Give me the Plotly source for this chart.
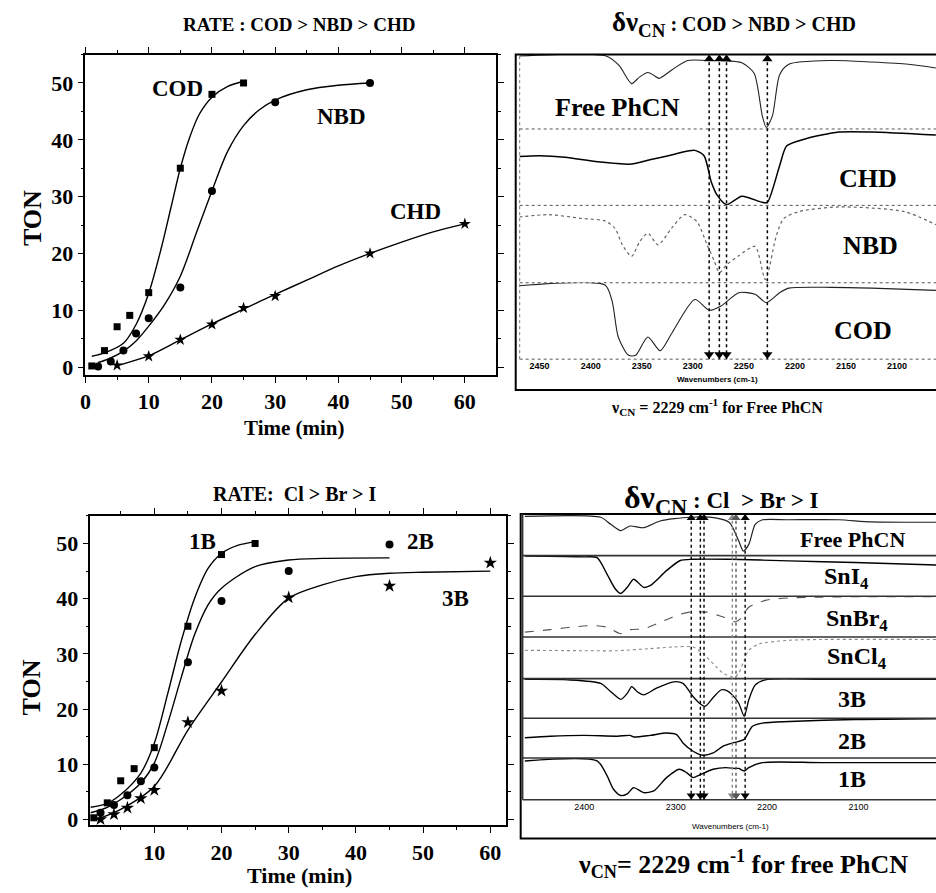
import plotly.graph_objects as go

W, H = 936, 893
def PX(p): return p / W
def PY(p): return 1 - p / H

SERIF = "Liberation Serif"
SANS = "Liberation Sans"

# ---------------- Data: top-left (TON vs time, diene) ----------------
cod_t = [1, 3, 5, 7, 10, 15, 20, 25]
cod_ton = [0.2, 2.9, 7.1, 9.1, 13.1, 35.0, 48.0, 50.0]
nbd_t = [2, 4, 6, 8, 10, 15, 20, 30, 45]
nbd_ton = [0.1, 1.0, 2.9, 5.9, 8.6, 14.0, 31.0, 46.6, 50.0]
chd_t = [5, 10, 15, 20, 25, 30, 45, 60]
chd_ton = [0.3, 1.9, 4.8, 7.5, 10.4, 12.5, 20.0, 25.2]

cod_fit_t = [1, 3, 6, 8, 10, 12, 13.5, 15, 16.5, 18, 20, 22.5, 25]
cod_fit = [1.9, 2.5, 4.2, 7.5, 13.0, 21.0, 28.0, 35.0, 40.5, 44.5, 47.5, 49.4, 50.3]
nbd_fit_t = [2, 4, 6, 8, 10, 12.5, 15, 17.5, 20, 22.5, 25, 27.5, 30, 35, 40, 45]
nbd_fit = [0.8, 1.6, 2.8, 4.6, 7.2, 11.0, 16.0, 23.5, 31.0, 38.0, 42.5, 45.3, 47.0, 48.8, 49.6, 50.0]
chd_fit_t = [5.5, 10, 15, 20, 25, 30, 35, 40, 45, 50, 55, 60]
chd_fit = [0.4, 2.0, 4.8, 7.6, 10.2, 12.8, 15.3, 17.8, 20.0, 22.0, 23.8, 25.2]

# ---------------- Data: bottom-left (TON vs time, SnX4) ----------------
b1_t = [1, 3, 5, 7, 10, 15, 20, 25]
b1_ton = [0.3, 3.0, 7.0, 9.2, 13.0, 35.0, 48.0, 50.0]
b2_t = [2, 4, 6, 8, 10, 15, 20, 30, 45]
b2_ton = [1.2, 2.6, 4.4, 6.9, 9.4, 28.5, 39.6, 45.0, 49.8]
b3_t = [2, 4, 6, 8, 10, 15, 20, 30, 45, 60]
b3_ton = [0.0, 0.9, 2.1, 3.8, 5.3, 17.6, 23.3, 40.2, 42.3, 46.5]

b1_fit_t = [0.5, 3, 5, 8, 10, 12, 14, 16, 18, 20, 22.5, 25]
b1_fit = [2.2, 2.9, 4.5, 8.4, 13.8, 22.8, 32.3, 40.1, 45.5, 48.2, 49.7, 50.3]
b2_fit_t = [0.5, 3, 5, 8, 10, 12, 14, 16, 18, 20, 25, 30, 35, 45]
b2_fit = [1.2, 2.2, 3.6, 6.6, 10.2, 17.4, 25.7, 33.5, 38.9, 41.9, 45.8, 47.0, 47.3, 47.4]
b3_fit_t = [1, 5, 10, 15, 20, 25, 30, 35, 40, 45, 50, 60]
b3_fit = [-0.2, 1.8, 6.0, 16.2, 24.9, 33.5, 40.1, 42.5, 44.0, 44.6, 44.8, 45.0]

# ---------------- Data: top-right IR spectra (wavenumber, % of band) ----------------
free1_w = [2470, 2385, 2372, 2360, 2352, 2344, 2338, 2333, 2320, 2305, 2286, 2271, 2252, 2240, 2232, 2228, 2222, 2215, 2206, 2164, 2125, 2089, 2062]
free1_v = [98, 98, 85, 61, 70, 76, 72, 68, 80, 92, 92, 92, 89, 75, 18, 2, 18, 73, 87, 92, 90, 87, 82]
chdS_w = [2470, 2450, 2425, 2393, 2360, 2344, 2321, 2298, 2289, 2282, 2276, 2267, 2252, 2232, 2227, 2215, 2208, 2190, 2157, 2125, 2062]
chdS_v = [64, 65, 63, 57, 54, 59, 66, 72, 65, 31, 13, 1, 12, 4, 4, 52, 78, 87, 96, 96, 92]
nbdS_w = [2470, 2441, 2408, 2386, 2376, 2369, 2360, 2352, 2344, 2334, 2321, 2308, 2296, 2286, 2279, 2274, 2267, 2255, 2239, 2229, 2218, 2211, 2196, 2157, 2093, 2062]
nbdS_v = [85, 88, 83, 80, 70, 49, 34, 53, 64, 49, 70, 88, 79, 49, 28, 13, 23, 35, 47, 4, 62, 83, 92, 98, 92, 75]
codS_w = [2470, 2386, 2379, 2373, 2363, 2356, 2344, 2332, 2321, 2298, 2284, 2272, 2255, 2239, 2228, 2215, 2206, 2164, 2125, 2062]
codS_v = [96, 97, 76, 29, 5, 5, 29, 11, 33, 78, 64, 70, 87, 85, 74, 87, 93, 94, 93, 90]
top_marks = [2284, 2274, 2267, 2227]
top_ticks = [2450, 2400, 2350, 2300, 2250, 2200, 2150, 2100]

# ---------------- Data: bottom-right IR spectra ----------------
free2_w = [2465, 2382, 2371, 2360, 2350, 2335, 2317, 2285, 2255, 2241, 2231, 2226, 2220, 2213, 2205, 2176, 2122, 2086, 2015]
free2_v = [94, 92, 75, 60, 71, 67, 83, 92, 90, 79, 35, 11, 27, 75, 86, 86, 86, 81, 80]
sni_w = [2465, 2400, 2386, 2375, 2366, 2360, 2353, 2346, 2335, 2328, 2310, 2295, 2281, 2241, 2176, 2104, 2015]
sni_v = [99, 97, 95, 54, 18, 7, 22, 42, 22, 26, 63, 88, 91, 91, 87, 83, 77]
snbr_w = [2465, 2437, 2415, 2390, 2375, 2360, 2350, 2335, 2321, 2299, 2285, 2266, 2248, 2241, 2235, 2229, 2220, 2202, 2176, 2140, 2104, 2015]
snbr_v = [12, 18, 24, 28, 24, 8, 18, 20, 32, 53, 61, 61, 49, 45, 37, 45, 73, 90, 96, 98, 99, 99]
sncl_w = [2465, 2400, 2364, 2328, 2302, 2281, 2270, 2259, 2248, 2236, 2231, 2225, 2220, 2209, 2176, 2140, 2015]
sncl_v = [68, 67, 67, 72, 76, 76, 60, 36, 13, 3, 13, 45, 68, 83, 92, 94, 94]
s3b_w = [2465, 2418, 2382, 2371, 2360, 2353, 2348, 2342, 2335, 2321, 2302, 2292, 2281, 2274, 2268, 2258, 2250, 2244, 2238, 2231, 2225, 2220, 2213, 2202, 2140, 2015]
s3b_v = [98, 97, 88, 67, 48, 63, 80, 67, 59, 76, 92, 88, 55, 38, 30, 55, 72, 70, 59, 38, 5, 47, 84, 97, 98, 98]
s2b_w = [2465, 2437, 2400, 2364, 2350, 2346, 2328, 2310, 2299, 2292, 2281, 2270, 2259, 2248, 2239, 2231, 2225, 2216, 2205, 2176, 2104, 2015]
s2b_v = [51, 55, 57, 55, 57, 53, 57, 63, 59, 38, 17, 7, 13, 30, 37, 42, 47, 80, 88, 92, 97, 99]
s1b_w = [2465, 2386, 2375, 2368, 2360, 2353, 2346, 2335, 2324, 2310, 2296, 2288, 2281, 2274, 2259, 2245, 2235, 2231, 2225, 2220, 2205, 2140, 2015]
s1b_v = [93, 93, 57, 25, 10, 14, 29, 17, 21, 53, 73, 65, 53, 59, 73, 77, 75, 75, 69, 77, 89, 89, 89]
bot_marks = [2283, 2273, 2269, 2238, 2234, 2224]
bot_mark_colors = ["black", "black", "black", "#888888", "#555555", "black"]
bot_ticks = [2400, 2300, 2200, 2100]

fig = go.Figure()

# ---------- left kinetics panels ----------
def kin(t, v, sym, size, xa, ya):
    fig.add_trace(go.Scatter(x=t, y=v, mode="markers", xaxis=xa, yaxis=ya,
                             marker=dict(symbol=sym, size=size, color="black"),
                             showlegend=False, cliponaxis=False))

def fit(t, v, xa, ya):
    fig.add_trace(go.Scatter(x=t, y=v, mode="lines", xaxis=xa, yaxis=ya,
                             line=dict(color="black", width=1.4, shape="spline", smoothing=0.9),
                             showlegend=False))

fit(cod_fit_t, cod_fit, "x", "y"); fit(nbd_fit_t, nbd_fit, "x", "y"); fit(chd_fit_t, chd_fit, "x", "y")
kin(cod_t, cod_ton, "square", 7, "x", "y")
kin(nbd_t, nbd_ton, "circle", 8, "x", "y")
kin(chd_t, chd_ton, "star", 9, "x", "y")

fit(b1_fit_t, b1_fit, "x2", "y2"); fit(b2_fit_t, b2_fit, "x2", "y2"); fit(b3_fit_t, b3_fit, "x2", "y2")
kin(b1_t, b1_ton, "square", 7, "x2", "y2")
kin(b2_t, b2_ton, "circle", 8, "x2", "y2")
kin(b3_t, b3_ton, "star", 10, "x2", "y2")

# ---------- spectra ----------
def spec(w, v, xa, ya, color="black", width=1.1, dash="solid"):
    fig.add_trace(go.Scatter(x=w, y=v, mode="lines", xaxis=xa, yaxis=ya,
                             line=dict(color=color, width=width, dash=dash, shape="spline", smoothing=0.7),
                             showlegend=False, cliponaxis=False))

spec(free1_w, free1_v, "x3", "y3", "#222222", 1.1)
spec(chdS_w, chdS_v, "x3", "y4", "black", 1.5)
spec(nbdS_w, nbdS_v, "x3", "y5", "#666666", 1.2, "dot")
spec(codS_w, codS_v, "x3", "y6", "#222222", 1.1)

spec(free2_w, free2_v, "x4", "y7", "#222222", 1.2)
spec(sni_w, sni_v, "x4", "y8", "black", 1.4)
spec(snbr_w, snbr_v, "x4", "y9", "#555555", 1.1, "dash")
spec(sncl_w, sncl_v, "x4", "y10", "#888888", 1.1, "dot")
spec(s3b_w, s3b_v, "x4", "y11", "black", 1.3)
spec(s2b_w, s2b_v, "x4", "y12", "black", 1.4)
spec(s1b_w, s1b_v, "x4", "y13", "black", 1.4)

# arrowheads of the shift markers (triangles at top and bottom of each spectra stack)
def heads(marks, colors, xa, ytop, ybot, top_off, bot_off, size):
    fig.add_trace(go.Scatter(x=marks, y=[100 - top_off] * len(marks), mode="markers", xaxis=xa, yaxis=ytop,
                             marker=dict(symbol="triangle-up", size=size, color=colors),
                             showlegend=False, cliponaxis=False))
    fig.add_trace(go.Scatter(x=marks, y=[bot_off] * len(marks), mode="markers", xaxis=xa, yaxis=ybot,
                             marker=dict(symbol="triangle-down", size=size, color=colors),
                             showlegend=False, cliponaxis=False))

heads(top_marks, ["black"] * len(top_marks), "x3", "y3", "y6", 6, 6, 9)
heads(bot_marks, bot_mark_colors, "x4", "y7", "y13", 10, 10, 8)

tickfont = dict(family=SERIF, size=22, color="black", weight="bold")
kin_axis = dict(showline=True, linecolor="black", linewidth=1.5, mirror="ticks",
                ticks="outside", ticklen=6, tickwidth=1.3, tickcolor="black",
                showgrid=False, zeroline=False, tickfont=tickfont,
                minor=dict(ticks="outside", ticklen=3, tickwidth=1, tickcolor="black", dtick=5))

layout = dict(
    width=W, height=H, margin=dict(l=0, r=0, t=0, b=0),
    paper_bgcolor="white", plot_bgcolor="white", showlegend=False,
    font=dict(family=SERIF, color="black"),
    xaxis=dict(domain=[PX(80), PX(493)], range=[0, 64.9], anchor="y", dtick=10, tick0=0, **kin_axis),
    yaxis=dict(domain=[PY(378), PY(55)], range=[-1.4, 55], anchor="x", dtick=10, tick0=0, **kin_axis),
    xaxis2=dict(domain=[PX(85), PX(503)], range=[0.5, 62.3], anchor="y2", dtick=10, tick0=0, **kin_axis),
    yaxis2=dict(domain=[PY(832), PY(520)], range=[-1.1, 55], anchor="x2", dtick=10, tick0=0, **kin_axis),
    xaxis3=dict(domain=[PX(517), 1.0], range=[2469.5, 2061.9], anchor="y6", showgrid=False, zeroline=False,
                showline=False, ticks="", tickvals=top_ticks,
                tickfont=dict(family=SANS, size=9, color="black", weight="bold")),
    xaxis4=dict(domain=[PX(520), 1.0], range=[2467.4, 2015.2], anchor="y13", showgrid=False, zeroline=False,
                showline=False, ticks="", tickvals=bot_ticks,
                tickfont=dict(family=SANS, size=9, color="black")),
)

top_bands = [55, 130, 207, 285, 362]
for i in range(4):
    layout[f"yaxis{3+i}"] = dict(domain=[PY(top_bands[i+1]), PY(top_bands[i])], range=[0, 100],
                                 anchor="x3", visible=False)
bot_bands = [518, 560, 601, 642, 684, 724, 764, 806]
for i in range(7):
    layout[f"yaxis{7+i}"] = dict(domain=[PY(bot_bands[i+1]), PY(bot_bands[i])], range=[0, 100],
                                 anchor="x4", visible=False)
fig.update_layout(**layout)

shapes = []
# frames around spectra
shapes.append(dict(type="rect", xref="paper", yref="paper", x0=PX(513), x1=1.02, y0=PY(393), y1=PY(55),
                   line=dict(color="black", width=2)))
shapes.append(dict(type="rect", xref="paper", yref="paper", x0=PX(518), x1=1.02, y0=PY(845), y1=PY(518),
                   line=dict(color="black", width=2)))
shapes.append(dict(type="line", xref="paper", yref="paper", x0=PX(517), x1=PX(517), y0=PY(362), y1=PY(55),
                   line=dict(color="#777777", width=1, dash="dot")))
for b in top_bands[1:]:
    shapes.append(dict(type="line", xref="paper", yref="paper", x0=PX(517), x1=1, y0=PY(b), y1=PY(b),
                       line=dict(color="#555555", width=1, dash="dot")))
for b in bot_bands[1:]:
    shapes.append(dict(type="line", xref="paper", yref="paper", x0=PX(520), x1=1, y0=PY(b), y1=PY(b),
                       line=dict(color="#333333", width=1.6)))
shapes.append(dict(type="line", xref="paper", yref="paper", x0=PX(520), x1=PX(520), y0=PY(806), y1=PY(518),
                   line=dict(color="#333333", width=1.5)))

for w in top_marks:
    shapes.append(dict(type="line", xref="x3", yref="paper", x0=w, x1=w, y0=PY(362), y1=PY(55),
                       line=dict(color="black", width=1.5, dash="dot")))
for w, c in zip(bot_marks, bot_mark_colors):
    shapes.append(dict(type="line", xref="x4", yref="paper", x0=w, x1=w, y0=PY(806), y1=PY(518),
                       line=dict(color=c, width=1.4, dash="dot")))

annotations = []
def txt(s, x, y, size, angle=0, family=SERIF, bold=True):
    annotations.append(dict(text=(f"<b>{s}</b>" if bold else s), x=PX(x), y=PY(y), xref="paper", yref="paper",
                            showarrow=False, xanchor="center", yanchor="middle", textangle=angle,
                            font=dict(family=family, size=size, color="black")))

# titles
txt("RATE : COD &gt; NBD &gt; CHD", 295, 25, 19)
txt("<span style='font-size:27px'>δν<sub>CN</sub></span> : COD &gt; NBD &gt; CHD", 733, 24, 20)
txt("ν<sub>CN</sub> = 2229 cm<sup>-1</sup> for Free PhCN", 716, 410, 16)
txt("RATE:  Cl &gt; Br &gt; I", 290, 498, 20)
txt("<span style='font-size:32px'>δν<sub>CN</sub></span> : Cl  &gt; Br &gt; I", 720, 503, 23)
txt("ν<sub>CN</sub>= 2229 cm<sup>-1</sup> for free PhCN", 742, 871, 26)

# axis titles
txt("TON", 26, 220, 26, angle=-90)
txt("Time (min)", 290, 431, 21)
txt("TON", 26, 693, 26, angle=-90)
txt("Time (min)", 295, 882, 22)
txt("Wavenumbers (cm-1)", 716, 382, 8, family=SANS)
txt("Wavenumbers (cm-1)", 729, 833, 8, family=SANS, bold=False)

# series labels
kin_labels = [("COD", 173, 89), ("NBD", 338, 117), ("CHD", 412, 213),
              ("1B", 198, 546), ("2B", 417, 546), ("3B", 452, 603)]
for s, x, y in kin_labels:
    txt(s, x, y, 23)
spec_labels = [("Free PhCN", 615, 108, 26), ("CHD", 868, 180, 26), ("NBD", 870, 247, 26), ("COD", 863, 333, 26),
               ("Free PhCN", 852, 544, 22), ("SnI<sub>4</sub>", 846, 583, 24), ("SnBr<sub>4</sub>", 856, 625, 24),
               ("SnCl<sub>4</sub>", 856, 663, 24), ("3B", 851, 705, 24), ("2B", 851, 747, 24), ("1B", 851, 785, 24)]
for s, x, y, fs in spec_labels:
    txt(s, x, y, fs)

fig.update_layout(shapes=shapes, annotations=annotations)
fig.write_html("out.html")
